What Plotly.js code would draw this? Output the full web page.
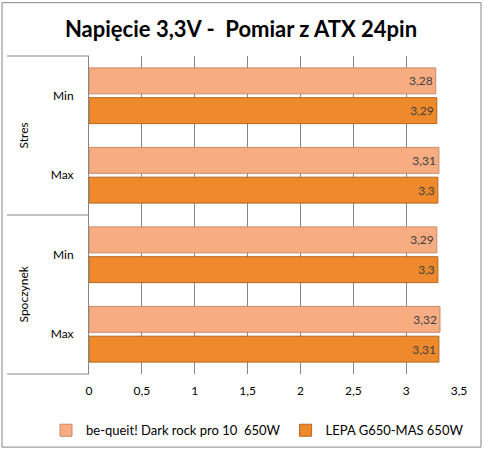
<!DOCTYPE html>
<html>
<head>
<meta charset="utf-8">
<script src="https://cdn.plot.ly/plotly-3.0.1.min.js"></script>
<style>html,body{margin:0;padding:0;background:#fff;}#chart{width:484px;height:457px;}</style>
</head>
<body>
<div id="chart"></div>
<script>
var categories = ["Stres|Min", "Stres|Max", "Spoczynek|Min", "Spoczynek|Max"];
var tickLabels = ["Min", "Max", "Min", "Max"];
var groupLabels = ["Stres", "Spoczynek"];
var seriesNames = ["be-queit! Dark rock pro 10  650W", "LEPA G650-MAS 650W"];
var bequeitValues = [3.28, 3.31, 3.29, 3.32];
var lepaValues = [3.29, 3.30, 3.30, 3.31];
var xTicks = [0, 0.5, 1, 1.5, 2, 2.5, 3, 3.5];

function fmt(v){ return String(v).replace('.', ','); }

var FONT = "Lato, 'Open Sans', sans-serif";

var traces = [
  {
    type: 'bar', orientation: 'h', name: seriesNames[0],
    y: categories, x: bequeitValues,
    text: bequeitValues.map(fmt), textposition: 'inside', insidetextanchor: 'end',
    textfont: {family: FONT, size: 12, color: '#404040'},
    marker: {color: '#F8AC82', line: {color: '#C98A66', width: 1}},
    hoverinfo: 'none'
  },
  {
    type: 'bar', orientation: 'h', name: seriesNames[1],
    y: categories, x: lepaValues,
    text: lepaValues.map(fmt), textposition: 'inside', insidetextanchor: 'end',
    textfont: {family: FONT, size: 12, color: '#404040'},
    marker: {color: '#EF8A2C', line: {color: '#B4661E', width: 1}},
    hoverinfo: 'none'
  }
];

var L = 89, R = 459, T = 56, B = 378;
var W = R - L, H = B - T;
function px(x){ return (x - L) / W; }
function py(y){ return (B - y) / H; }

var layout = {
  width: 484, height: 457,
  margin: {l: L, r: 484 - R, t: T, b: 457 - B},
  paper_bgcolor: '#ffffff', plot_bgcolor: '#ffffff',
  separators: ', ',
  barmode: 'group', bargap: 0.25, bargroupgap: 0.13,
  title: {text: '<b>Napięcie 3,3V -  Pomiar z ATX 24pin</b>', x: 241/484, xref: 'container', xanchor: 'center',
          y: 1 - 29/457, yref: 'container', yanchor: 'middle',
          font: {family: FONT, size: 22, color: '#000000'}},
  font: {family: FONT, size: 12, color: '#000000'},
  showlegend: true,
  legend: {orientation: 'h', x: px(46), xref: 'paper', xanchor: 'left', y: py(435), yref: 'paper', yanchor: 'middle',
           font: {family: FONT, size: 13, color: '#000000'}, itemwidth: 30, tracegroupgap: 0},
  xaxis: {
    range: [0, 3.5], tickvals: xTicks, ticktext: xTicks.map(fmt),
    showgrid: true, gridcolor: '#868686', gridwidth: 1, zeroline: false,
    showline: false, ticks: '', tickfont: {family: FONT, size: 12, color: '#000000'},
    ticklabelstandoff: 8, fixedrange: true
  },
  yaxis: {
    type: 'category', categoryorder: 'array', categoryarray: categories,
    autorange: 'reversed', tickvals: categories, ticktext: tickLabels,
    showgrid: false, zeroline: false, showline: true, linecolor: '#868686', linewidth: 1,
    ticks: '', tickfont: {family: FONT, size: 12, color: '#000000'},
    ticklabelstandoff: 12, fixedrange: true
  },
  shapes: [
    {type: 'rect', xref: 'paper', yref: 'paper', x0: px(2), x1: px(481), y0: py(452), y1: py(2),
     line: {color: '#868686', width: 1}, fillcolor: 'rgba(0,0,0,0)', layer: 'below'},
    {type: 'line', xref: 'paper', yref: 'paper', x0: px(7), x1: 0, y0: 1, y1: 1, line: {color: '#868686', width: 1}},
    {type: 'line', xref: 'paper', yref: 'paper', x0: px(7), x1: 0, y0: 0.5, y1: 0.5, line: {color: '#868686', width: 1}},
    {type: 'line', xref: 'paper', yref: 'paper', x0: px(7), x1: 0, y0: 0, y1: 0, line: {color: '#868686', width: 1}}
  ],
  annotations: [
    {text: groupLabels[0], xref: 'paper', yref: 'paper', x: px(23), y: 0.75, showarrow: false,
     textangle: -90, font: {family: FONT, size: 12, color: '#000000'}, xanchor: 'center', yanchor: 'middle'},
    {text: groupLabels[1], xref: 'paper', yref: 'paper', x: px(23), y: 0.25, showarrow: false,
     textangle: -90, font: {family: FONT, size: 12, color: '#000000'}, xanchor: 'center', yanchor: 'middle'}
  ]
};

Plotly.newPlot('chart', traces, layout, {displayModeBar: false, staticPlot: true});
</script>
</body>
</html>
